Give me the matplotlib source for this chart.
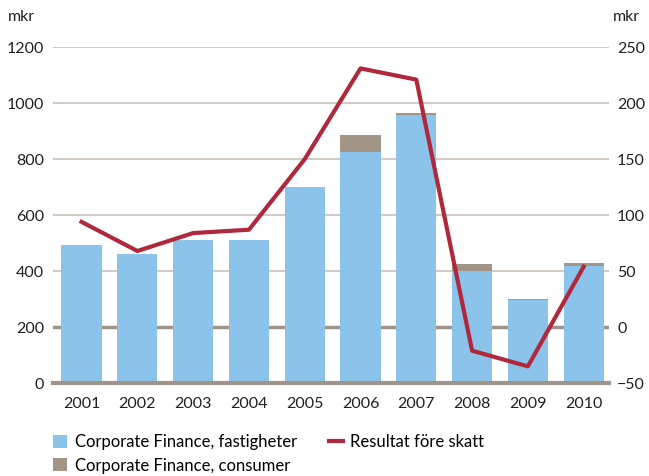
import matplotlib.pyplot as plt
import numpy as np

years = ['2001', '2002', '2003', '2004', '2005', '2006', '2007', '2008', '2009', '2010']
fastigheter = [495, 460, 510, 510, 700, 825, 957, 400, 297, 419]
consumer = [0, 0, 0, 0, 0, 61, 6, 26, 5, 9]
resultat = [94, 68, 84, 87, 150, 231, 221, -21, -35, 54]

blue = '#8cc3ea'
grey = '#a39586'
red = '#b0283c'

plt.rcParams['font.family'] = ['Lato', 'DejaVu Sans']
plt.rcParams['font.size'] = 11.5

fig = plt.figure(figsize=(6.49, 4.76), dpi=100)
ax = fig.add_axes([0.081, 0.195, 0.857, 0.706])
ax2 = ax.twinx()

x = np.arange(len(years))
ax.bar(x, fastigheter, width=0.72, color=blue, label='Corporate Finance, fastigheter', zorder=2)
ax.bar(x, consumer, width=0.72, bottom=fastigheter, color=grey, label='Corporate Finance, consumer', zorder=2)

ax.set_ylim(0, 1200)
ax.set_xlim(-0.52, 9.45)
ax.set_yticks(range(0, 1201, 200))
for v in range(200, 1201, 200):
    ax.axhline(v, color='#c9c0b7', lw=1.2, zorder=1)
ax.axhline(200, color='#a09488', lw=2.5, zorder=1)
ax.axhline(0, color='#a09488', lw=3, zorder=3, clip_on=False)

ax2.plot(x, resultat, color=red, lw=3, label='Resultat före skatt', zorder=4)
ax2.set_ylim(-50, 250)
ax2.set_yticks(range(-50, 251, 50))

ax.set_xticks(x)
ax.set_xticklabels(years)
for a in (ax, ax2):
    for s in a.spines.values():
        s.set_visible(False)
    a.tick_params(length=0, colors='#231f20', labelsize=11.5)
ax.tick_params(axis='y', pad=6)
ax.tick_params(axis='x', pad=10)
ax2.tick_params(axis='y', pad=6)

fig.text(0.012, 0.955, 'mkr', fontsize=11.5, color='#231f20')
fig.text(0.945, 0.955, 'mkr', fontsize=11.5, color='#231f20')

h1, l1 = ax.get_legend_handles_labels()
h2, l2 = ax2.get_legend_handles_labels()
fig.legend(h1 + h2, l1 + l2, ncol=2, loc='upper left', bbox_to_anchor=(0.082, 0.088),
           frameon=False, fontsize=12, handlelength=0.85, handleheight=0.85, handletextpad=0.45,
           columnspacing=1.9, labelspacing=0.45, borderaxespad=0, borderpad=0)

fig.savefig('out.png', dpi=100)
